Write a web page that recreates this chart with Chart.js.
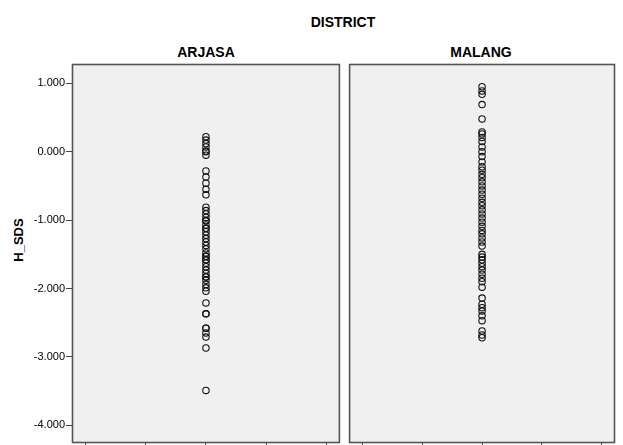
<!DOCTYPE html>
<html>
<head>
<meta charset="utf-8">
<script src="https://cdn.jsdelivr.net/npm/chart.js@4.4.0/dist/chart.umd.min.js"></script>
<style>
  html, body { margin: 0; padding: 0; background: #fff; overflow: hidden; width: 623px; height: 445px; }
  .t { position: absolute; font-family: "Liberation Sans", Arial, sans-serif; font-weight: bold; color: #000;
       white-space: nowrap; transform: translate(-50%, -50%); }
  canvas { position: absolute; top: 0; }
</style>
</head>
<body>
<div class="t" style="left:343px; top:22px; font-size:14px">DISTRICT</div>
<div class="t" id="t0" style="left:206px; top:52px; font-size:14px"></div>
<div class="t" id="t1" style="left:481px; top:52px; font-size:14px"></div>
<div class="t" style="left:18px; top:240px; font-size:13px; transform:translate(-50%,-50%) rotate(-90deg)">H_SDS</div>
<canvas id="c0" width="345" height="453" style="left:0"></canvas>
<canvas id="c1" width="279" height="453" style="left:344px"></canvas>
<script>
const districts = ['ARJASA', 'MALANG'];
const yLabel = 'H_SDS';

const arjasa = [
  0.22, 0.17, 0.12, 0.07, 0.01, 0.00, -0.05,
  -0.28, -0.37, -0.46, -0.55, -0.63,
  -0.81, -0.86, -0.91, -0.96, -1.01, -1.01, -1.07, -1.12, -1.12, -1.17, -1.22, -1.27,
  -1.32, -1.37, -1.42, -1.48, -1.53, -1.53, -1.58, -1.58, -1.63, -1.68, -1.73, -1.78,
  -1.83, -1.83, -1.88, -1.94, -1.99, -2.04,
  -2.21, -2.37, -2.37, -2.58, -2.58, -2.65, -2.71, -2.87, -3.49
];
const malang = [
  0.95, 0.89, 0.84, 0.69, 0.48, 0.29, 0.26, 0.21, 0.15, 0.07, 0.00, -0.07, -0.15, -0.22,
  -0.27, -0.33, -0.38, -0.44, -0.50, -0.56, -0.62, -0.68, -0.74, -0.79, -0.85, -0.91,
  -0.97, -1.03, -1.09, -1.15, -1.20, -1.26, -1.32, -1.38, -1.50,
  -1.54, -1.58, -1.63, -1.68, -1.73, -1.79, -1.85, -1.90, -1.98, -2.14,
  -2.23, -2.28, -2.33, -2.40, -2.47, -2.62, -2.68, -2.72
];
const series = [arjasa, malang];

const yMin = -4.259, yMax = 1.283;

const panelFrame = {
  id: 'panelFrame',
  beforeDraw(chart) {
    const a = chart.chartArea, ctx = chart.ctx;
    ctx.save();
    ctx.fillStyle = '#f0f0f0';
    ctx.fillRect(a.left, a.top, a.right - a.left, a.bottom - a.top);
    ctx.restore();
  },
  afterDatasetsDraw(chart) {
    const a = chart.chartArea, ctx = chart.ctx;
    ctx.save();
    ctx.strokeStyle = '#555';
    ctx.lineWidth = 1.6;
    ctx.strokeRect(a.left + 0.5, a.top + 0.5, a.right - a.left - 1, a.bottom - a.top - 1);
    ctx.restore();
  }
};

function makePanel(i) {
  document.getElementById('t' + i).textContent = districts[i];
  const first = i === 0;
  return new Chart(document.getElementById('c' + i), {
    type: 'scatter',
    data: {
      datasets: [{
        label: districts[i],
        data: series[i].map(v => ({ x: 0, y: v })),
        pointStyle: 'circle',
        pointRadius: 3.2,
        pointBorderWidth: 1.1,
        borderColor: '#111',
        backgroundColor: 'rgba(0,0,0,0)'
      }]
    },
    options: {
      responsive: false,
      animation: false,
      layout: { padding: first ? { top: 64, right: 5, left: 0, bottom: 0 } : { top: 64, right: 8, left: 4, bottom: 0 } },
      plugins: { legend: { display: false }, tooltip: { enabled: false } },
      scales: {
        x: {
          min: -2.23, max: 2.23,
          ticks: { stepSize: 1, display: false, includeBounds: false },
          grid: { drawOnChartArea: false, drawTicks: true, tickLength: 8, color: '#444' },
          border: { display: false },
          afterFit: s => { s.height = 10; }
        },
        y: {
          display: first,
          min: yMin, max: yMax,
          ticks: {
            stepSize: 1, includeBounds: false, padding: 1, color: '#000',
            font: { family: '"Liberation Sans", Arial, sans-serif', size: 11 },
            callback: v => v.toFixed(3)
          },
          grid: { drawOnChartArea: false, drawTicks: true, tickLength: 6, color: '#444' },
          border: { display: false },
          title: { display: false, text: yLabel },
          afterFit: s => { s.width = first ? 72 : 0; }
        }
      }
    },
    plugins: [panelFrame]
  });
}

makePanel(0);
makePanel(1);
</script>
</body>
</html>
